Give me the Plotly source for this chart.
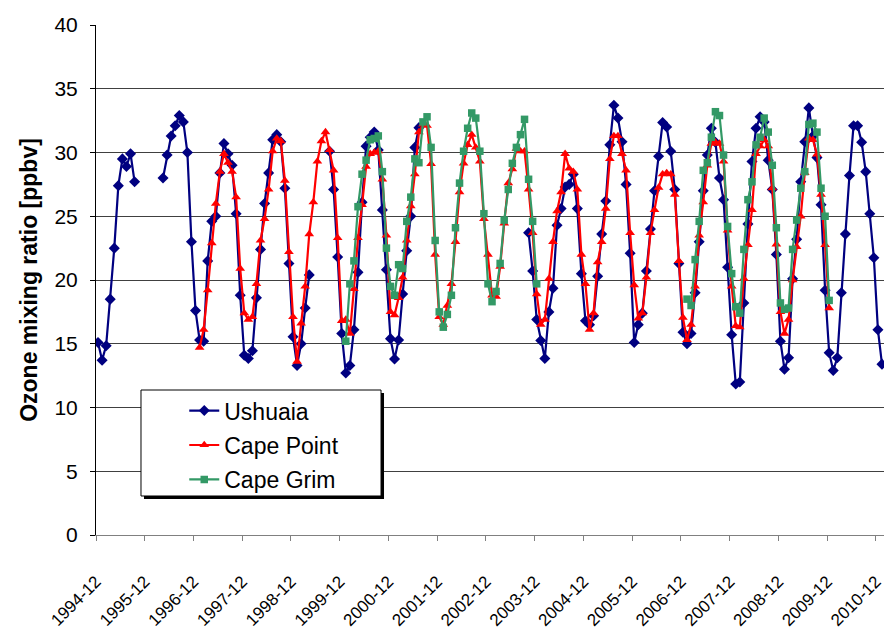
import plotly.graph_objects as go

# Monthly categories: 1994-12 .. 2011-01
months = []
y, m = 1994, 12
for _ in range(194):
    months.append(f"{y}-{m:02d}")
    m += 1
    if m > 12:
        m = 1
        y += 1

tick_labels = ["1994-12", "1995-12", "1996-12", "1997-12", "1998-12", "1999-12",
               "2000-12", "2001-12", "2002-12", "2003-12", "2004-12", "2005-12",
               "2006-12", "2007-12", "2008-12", "2009-12", "2010-12"]

N = None
ushuaia = [
    15.1, 13.7, 14.85, 18.5, 22.5, 27.4, 29.5, 28.9, 29.9, 27.7, N, N,
    N, N, N, N, 28.0, 29.8, 31.3, 32.1, 32.9, 32.4, 30.0, 23.0,
    17.6, 15.3, 15.2, 21.5, 24.6, 25.0, 28.4, 30.7, 29.9, 29.0, 25.2, 18.8,
    14.1, 13.85, 14.45, 18.6, 22.4, 26.0, 28.4, 31.0, 31.4, 30.85, 27.2, 21.3,
    15.55, 13.3, 15.0, 17.8, 20.4, N, N, N, N, 30.1, 27.1, 21.8,
    15.8, 12.7, 13.3, 16.1, 20.6, 26.1, 30.5, 31.2, 31.6, 30.2, 25.5, 20.8,
    15.4, 13.8, 15.3, 18.9, 22.3, 25.0, 30.4, 31.95, N, N, N, N,
    N, N, N, N, N, N, N, N, N, N, N, N,
    N, N, N, N, N, N, N, N, N, N, 23.7, 20.7,
    16.9, 15.25, 13.85, 17.5, 19.35, 24.3, 25.6, 27.3, 27.5, 28.3, 25.6, 20.5,
    16.8, 16.5, 17.2, 20.3, 23.6, 26.2, 30.6, 33.7, 32.7, 30.85, 27.5, 22.1,
    15.1, 16.5, 17.4, 20.7, 24.0, 27.0, 29.7, 32.35, 32.0, 30.1, 27.1, 21.3,
    15.9, 15.0, 15.8, 19.0, 23.0, 27.0, 29.8, 31.9, 30.8, 28.0, 26.3, 21.0,
    15.7, 11.85, 12.0, 18.2, 24.4, 29.3, 31.9, 32.8, 32.4, 29.4, 27.1, 22.0,
    15.2, 13.0, 13.9, 20.1, 23.2, 27.7, 30.85, 33.5, 31.3, 29.6, 25.9, 19.2,
    14.3, 12.9, 13.9, 19.0, 23.6, 28.2, 32.1, 32.1, 30.8, 28.5, 25.2, 21.75,
    16.1, 13.4,
]

cape_point = [
    N, N, N, N, N, N, N, N, N, N, N, N,
    N, N, N, N, N, N, N, N, N, N, N, N,
    N, 14.7, 16.1, 19.2, 22.9, 26.0, 28.5, 29.9, 29.2, 28.5, 26.5, 20.9,
    17.4, 16.9, 17.1, 19.7, 23.1, 24.8, 27.1, 30.1, 31.1, 30.9, 27.8, 22.2,
    17.1, 13.6, 16.6, 19.5, 23.6, 26.1, 29.3, 30.9, 31.6, 30.2, 28.6, 23.3,
    16.8, 16.9, 15.8, 19.3, 23.3, 25.9, 28.9, 29.9, 30.0, 30.1, 27.9, 23.5,
    17.5, 17.25, 18.6, 20.2, 23.1, 25.8, 28.3, 31.6, 32.2, 32.1, 29.1, 22.0,
    17.1, 16.5, 18.0, 19.7, 23.0, 26.9, 29.15, 30.6, 31.4, 30.4, 29.3, 24.8,
    22.0, 18.8, 18.7, 21.05, 24.45, 27.6, 28.7, 30.3, 30.1, 30.1, 27.1, 23.7,
    18.9, 16.5, 16.9, 20.1, 23.0, 25.4, 26.9, 29.9, 28.75, 28.5, 27.1, 22.0,
    19.7, 16.1, 17.4, 21.4, 23.0, 25.6, 29.5, 31.3, 31.3, 29.9, 28.6, 23.7,
    19.6, 17.0, 17.4, 20.2, 23.7, 25.5, 27.25, 28.3, 28.4, 28.3, 26.7, 21.5,
    17.05, 15.3, 16.5, 19.5, 23.5, 26.1, 29.0, 30.7, 30.8, 30.7, 29.3, 23.9,
    19.5, 16.4, 16.3, 20.1, 22.75, 25.5, 29.9, 30.5, 31.0, 30.5, 27.2, 22.8,
    17.5, 15.8, 16.9, 20.0, 22.6, 25.0, 28.4, 31.1, 31.0, 29.85, 26.7, 22.75,
    17.8, N, N, N, N, N, N, N, N, N, N, N,
    N, N,
]

cape_grim = [
    N, N, N, N, N, N, N, N, N, N, N, N,
    N, N, N, N, N, N, N, N, N, N, N, N,
    N, N, N, N, N, N, N, N, N, N, N, N,
    N, N, N, N, N, N, N, N, N, N, N, N,
    N, N, N, N, N, N, N, N, N, N, N, N,
    N, 15.2, 19.7, 21.5, 25.75, 28.3, 29.4, 31.0, 31.1, 31.3, 28.5, 22.5,
    19.5, 18.8, 21.2, 20.9, 24.6, 26.5, 29.5, 29.2, 32.4, 32.8, 30.4, 23.1,
    17.5, 16.3, 17.3, 18.8, 24.1, 27.6, 30.1, 31.9, 33.1, 32.7, 30.1, 25.2,
    19.7, 18.3, 19.1, 21.3, 24.7, 27.1, 29.15, 30.4, 31.4, 32.6, 27.9, 24.6,
    19.7, N, N, N, N, N, N, N, N, N, N, N,
    N, N, N, N, N, N, N, N, N, N, N, N,
    N, N, N, N, N, N, N, N, N, N, N, N,
    N, 18.5, 18.0, 21.6, 24.6, 28.6, 29.2, 31.2, 33.2, 32.9, 29.8, 24.2,
    20.5, 17.9, 17.4, 22.4, 26.3, 27.7, 30.6, 31.2, 32.7, 31.6, 29.0, 24.1,
    18.2, 17.7, 17.8, 22.4, 24.7, 27.2, 28.5, 32.2, 32.3, 31.6, 27.2, 25.0,
    18.4, N, N, N, N, N, N, N, N, N, N, N,
    N, N,
]

idx = list(range(len(months)))
tick_pos = [months.index(t) - 0.5 for t in tick_labels]   # category boundaries

FONT = "Liberation Sans, Arial, sans-serif"

fig = go.Figure()
fig.add_trace(go.Scatter(
    x=idx, y=ushuaia, name="Ushuaia", mode="lines+markers",
    customdata=months, legendgroup="g0",
    line=dict(color="#000080", width=2.2),
    marker=dict(symbol="diamond", size=8.5, color="#000080"),
))
fig.add_trace(go.Scatter(
    x=idx, y=cape_point, name="Cape Point", mode="lines+markers",
    customdata=months, legendgroup="g1",
    line=dict(color="#FF0000", width=2.2),
    marker=dict(symbol="triangle-up", size=8.5, color="#FF0000"),
))
fig.add_trace(go.Scatter(
    x=idx, y=cape_grim, name="Cape Grim", mode="lines+markers",
    customdata=months, legendgroup="g2",
    line=dict(color="#339966", width=2.2),
    marker=dict(symbol="square", size=7.5, color="#339966"),
))

# legend frame with shadow (paper coordinates)
lx0, lx1, ly0, ly1 = 0.0571, 0.3617, 0.0765, 0.2843
fig.add_shape(type="rect", xref="paper", yref="paper",
              x0=lx0 + 0.0038, x1=lx1 + 0.0038, y0=ly0 - 0.0059, y1=ly1 - 0.0059,
              fillcolor="black", line=dict(width=0), layer="above")
fig.add_shape(type="rect", xref="paper", yref="paper",
              x0=lx0, x1=lx1, y0=ly0, y1=ly1,
              fillcolor="white", line=dict(color="black", width=1), layer="above")

fig.update_layout(
    width=884, height=634,
    margin=dict(l=96, r=0, t=25, b=99, autoexpand=False),
    paper_bgcolor="white", plot_bgcolor="white",
    font=dict(family=FONT, color="black"),
    showlegend=True,
    legend=dict(
        x=0.112, y=0.286, xanchor="left", yanchor="top",
        bgcolor="rgba(0,0,0,0)", borderwidth=0,
        font=dict(size=23, family=FONT),
        tracegroupgap=1.5, itemwidth=30,
    ),
    xaxis=dict(
        range=[-0.5, 193.5], automargin=False,
        tickmode="array", tickvals=tick_pos, ticktext=tick_labels,
        tickangle=-45, ticks="outside", ticklen=5, tickcolor="#808080",
        tickfont=dict(size=17, family=FONT),
        ticklabeloverflow="allow",
        showgrid=False, zeroline=False,
        showline=True, linecolor="#808080", linewidth=1,
        ticklabelstandoff=24,
    ),
    yaxis=dict(
        range=[0, 40], dtick=5, tick0=0, automargin=False,
        ticks="outside", ticklen=5, tickcolor="black",
        tickfont=dict(size=21, family=FONT),
        ticklabelstandoff=8,
        showgrid=True, gridcolor="#404040", gridwidth=1,
        zeroline=False,
        showline=True, linecolor="black", linewidth=1,
        title=dict(text="<b>Ozone mixing ratio [ppbv]</b>",
                   font=dict(size=23, family=FONT), standoff=10),
    ),
)

fig.write_html("out.html")
